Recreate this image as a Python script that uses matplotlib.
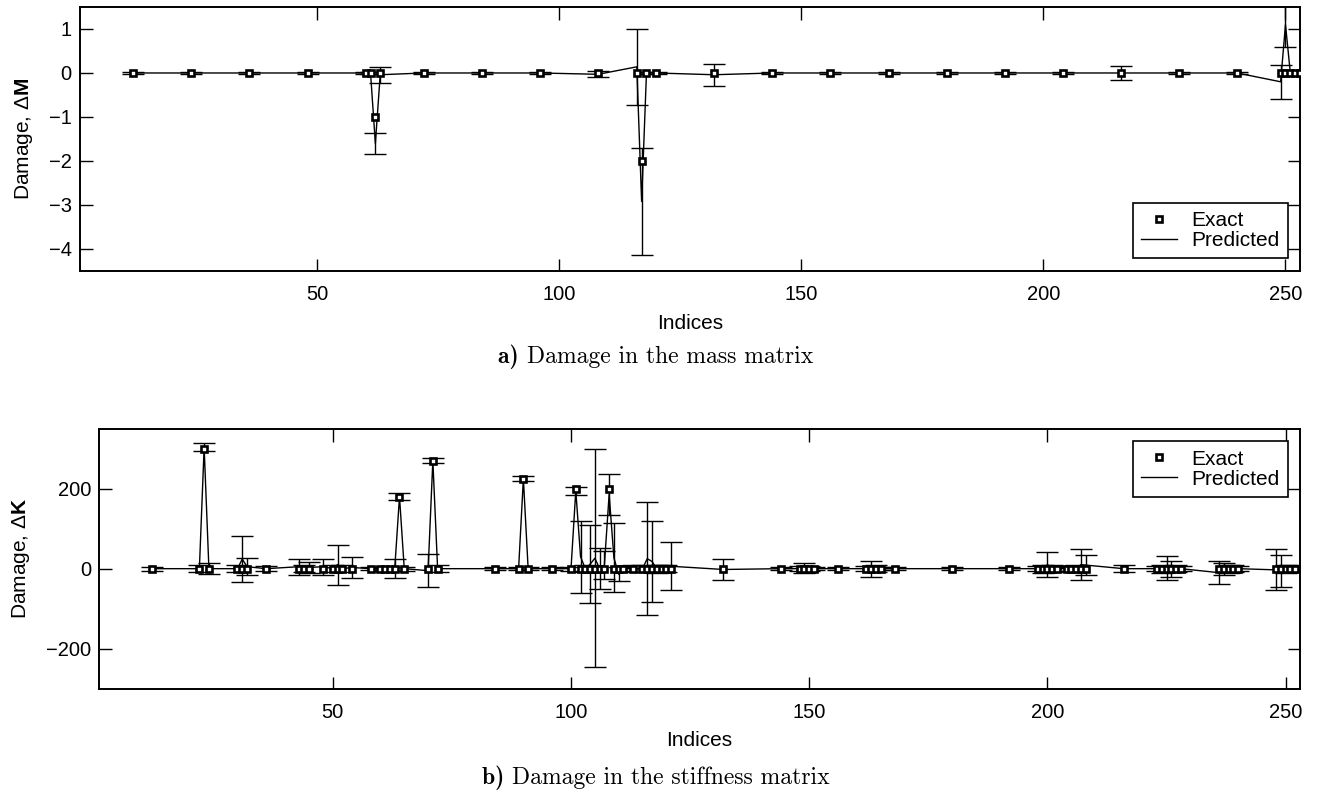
import numpy as np
import matplotlib
matplotlib.use("Agg")
import matplotlib.pyplot as plt
from matplotlib.lines import Line2D

plt.rcParams['font.family'] = ['Liberation Sans', 'DejaVu Sans']
plt.rcParams['mathtext.fontset'] = 'custom'
plt.rcParams['mathtext.rm'] = 'Liberation Sans'
plt.rcParams['mathtext.bf'] = 'Liberation Sans:bold'
plt.rcParams['axes.unicode_minus'] = True

# --- mass matrix damage ---
mass_idx = [12, 24, 36, 48, 60, 61, 62, 63, 72, 84, 96, 108, 116, 117, 118, 120,
            132, 144, 156, 168, 180, 192, 204, 216, 228, 240, 249, 250, 251, 252, 253]
mass_exact = [0, 0, 0, 0, 0, 0, -1, 0, 0, 0, 0, 0, 0, -2, 0, 0,
              0, 0, 0, 0, 0, 0, 0, 0, 0, 0, 0, 0, 0, 0, 0]
mass_pred = [0, 0, 0, 0, 0, 0, -1.6, -0.04, 0, 0, 0, -0.03, 0.14, -2.92, 0, 0,
             -0.04, 0, 0, 0, 0, 0, 0, 0, 0, 0, -0.2, 1.1, 0, 0, 0]
mass_err = [0.02, 0.03, 0.02, 0.03, 0.02, 0.02, 0.23, 0.18, 0.02, 0.02, 0.02, 0.07, 0.87, 1.22, 0.02, 0.02,
            0.25, 0.02, 0.02, 0.02, 0.02, 0.02, 0.02, 0.16, 0.02, 0.02, 0.38, 0.5, 0.02, 0.02, 0.02]

# --- stiffness matrix damage ---
stiff_idx = [12, 22, 23, 24, 30, 31, 32, 36, 43, 44, 45, 48, 50, 51, 52, 54,
             58, 60, 61, 62, 63, 64, 65, 70, 71, 72, 84, 89, 90, 91, 96,
             100, 101, 102, 103, 104, 105, 106, 107, 108, 109, 110, 111, 113, 115,
             116, 117, 118, 119, 120, 121, 132, 144, 148, 149, 150, 151, 156,
             162, 163, 164, 165, 168, 180, 192, 198, 199, 200, 201, 202,
             204, 205, 206, 207, 208, 216, 223, 224, 225, 226, 227, 228,
             236, 237, 238, 239, 240, 248, 249, 250, 251, 252]
stiff_exact = [0, 0, 300, 0, 0, 0, 0, 0, 0, 0, 0, 0, 0, 0, 0, 0,
               0, 0, 0, 0, 0, 180, 0, 0, 270, 0, 0, 0, 225, 0, 0,
               0, 200, 0, 0, 0, 0, 0, 0, 200, 0, 0, 0, 0, 0,
               0, 0, 0, 0, 0, 0, 0, 0, 0, 0, 0, 0, 0,
               0, 0, 0, 0, 0, 0, 0, 0, 0, 0, 0, 0,
               0, 0, 0, 0, 0, 0, 0, 0, 0, 0, 0, 0,
               0, 0, 0, 0, 0, 0, 0, 0, 0, 0]
stiff_pred = [0, 0, 303, 0, 0, 24, 5, 0, 5, 0, 3, 5, 0, 10, 0, 3,
              0, 0, 0, 0, 0, 180, 0, -5, 270, 0, 0, 0, 225, 0, 0,
              0, 195, 30, 0, 11, 26, 1, 8, 186, 27, -14, 0, 0, 0,
              25, 18, 0, 0, 0, 6, -2, 0, 0, 2, 0, 0, 0,
              0, -1, 0, 0, 0, 0, 0, 0, 0, 10, 0, 0,
              0, 0, 0, 10, 9, 0, 0, 0, 1, 0, 0, 0,
              -10, 0, 0, 0, 0, -3, -5, 0, 0, 0]
stiff_err = [5, 8, 10, 14, 8, 58, 22, 6, 20, 8, 14, 20, 8, 50, 8, 26,
             4, 5, 5, 5, 24, 9, 5, 42, 7, 8, 4, 4, 6, 4, 4,
             5, 10, 90, 8, 98, 272, 51, 35, 51, 86, 18, 6, 8, 8,
             142, 102, 10, 8, 8, 60, 26, 4, 6, 13, 6, 4, 4,
             6, 19, 8, 4, 4, 4, 4, 6, 10, 32, 8, 6,
             5, 6, 8, 39, 26, 8, 6, 10, 30, 20, 8, 6,
             28, 15, 10, 8, 6, 51, 40, 10, 8, 6]

fig = plt.figure(figsize=(13.19, 8.02), dpi=100)
ax1 = fig.add_axes([0.0607, 0.6621, 0.9249, 0.3292])
ax2 = fig.add_axes([0.0753, 0.1413, 0.9103, 0.3242])

MARK = dict(marker='s', mfc='white', mec='k', mew=1.9, ms=3.9)


def draw_panel(ax, idx, exact, pred, err):
    ax.errorbar(idx, pred, yerr=err, color='k', lw=1, elinewidth=1,
                capsize=8, capthick=1, zorder=2)
    ax.plot(idx, exact, linestyle='none', zorder=3, **MARK)
    ax.set_xlim(1, 253)
    ax.set_xticks([50, 100, 150, 200, 250])
    ax.tick_params(direction='in', top=True, right=True, length=9,
                   width=1, labelsize=14.5)
    ax.tick_params(axis='x', pad=10)
    ax.tick_params(axis='y', pad=6)
    for s in ax.spines.values():
        s.set_linewidth(1.4)
    ax.set_xlabel('Indices', fontsize=15, labelpad=7)


draw_panel(ax1, mass_idx, mass_exact, mass_pred, mass_err)
ax1.set_ylim(-4.5, 1.5)
ax1.set_yticks([-4, -3, -2, -1, 0, 1])
ax1.set_ylabel(r'Damage, $\Delta\mathbf{M}$', fontsize=15, labelpad=10)

draw_panel(ax2, stiff_idx, stiff_exact, stiff_pred, stiff_err)
ax2.set_ylim(-300, 350)
ax2.set_yticks([-200, 0, 200])
ax2.set_ylabel(r'Damage, $\Delta\mathbf{K}$', fontsize=15, labelpad=10)

handles = [Line2D([], [], ls='none', **MARK),
           Line2D([], [], color='k', lw=1)]
for ax, loc in ((ax1, 'lower right'), (ax2, 'upper right')):
    leg = ax.legend(handles, ['Exact', 'Predicted'], loc=loc, fontsize=15,
                    fancybox=False, framealpha=1, edgecolor='k',
                    borderaxespad=0.6, handlelength=1.75, handletextpad=0.65,
                    borderpad=0.4, labelspacing=0.05)
    leg.get_frame().set_linewidth(1.2)

# panel captions, centred on the page
for y, tag, text in ((0.555, 'a) ', 'Damage in the mass matrix'),
                     (0.03, 'b) ', 'Damage in the stiffness matrix')):
    t1 = fig.text(0, y, tag, family='cmb10', fontsize=17, va='center')
    t2 = fig.text(0, y, text, family='cmr10', fontsize=17, va='center')
    fig.canvas.draw()
    r = fig.canvas.get_renderer()
    w1 = t1.get_window_extent(r).width / fig.bbox.width
    w2 = t2.get_window_extent(r).width / fig.bbox.width
    x0 = 0.497 - (w1 + w2) / 2
    t1.set_x(x0)
    t2.set_x(x0 + w1)

fig.savefig('out.png', dpi=100)
